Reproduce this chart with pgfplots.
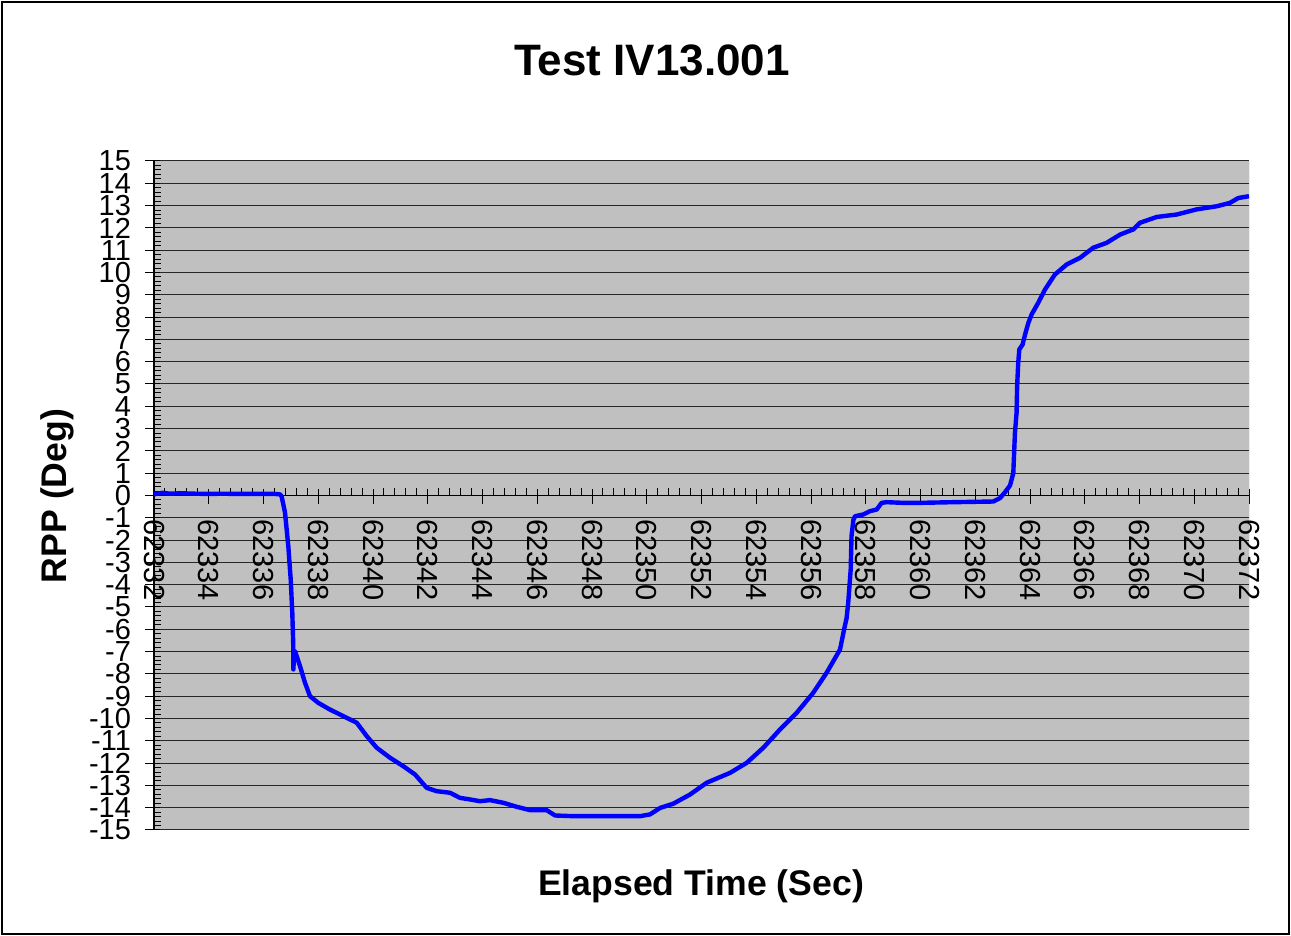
\documentclass[border=0pt]{standalone}
\usepackage{fontspec}
\setmainfont{Liberation Sans}
\usepackage{pgfplots}
\pgfplotsset{compat=1.18}
\definecolor{plotgray}{RGB}{192,192,192}
\begin{document}
\begin{tikzpicture}
\useasboundingbox (0,0) rectangle (645.5pt,468pt);
\draw[line width=0.75pt] (1pt,1pt) rectangle (644.5pt,467pt);
\begin{axis}[
  at={(77pt,53pt)}, anchor=south west, scale only axis,
  width=547.5pt, height=334.5pt,
  xmin=62332, xmax=62372, ymin=-15, ymax=15,
  axis x line=middle, axis y line=left,
  axis line style={-, black, line width=0.6pt},
  axis background/.style={fill=plotgray},
  xtick={62332,62334,62336,62338,62340,62342,62344,62346,62348,62350,62352,62354,62356,62358,62360,62362,62364,62366,62368,62370,62372},
  xticklabels={62332,62334,62336,62338,62340,62342,62344,62346,62348,62350,62352,62354,62356,62358,62360,62362,62364,62366,62368,62370,62372},
  minor x tick num=4,
  ytick={-15,-14,...,15}, minor y tick num=4,
  xtick align=inside, ytick align=outside,
  major tick length=7.5pt, minor tick length=3.5pt,
  major x tick style={yshift=-4.5pt, black, line width=0.5pt},
  minor x tick style={black, line width=0.5pt},
  major y tick style={xshift=3pt, black, line width=0.5pt},
  minor y tick style={xshift=3.5pt, black, line width=0.5pt},
  ymajorgrids, major grid style={black!85, line width=0.5pt},
  hide obscured x ticks=false, hide obscured y ticks=false,
  scaled x ticks=false, scaled y ticks=false,
  /pgf/number format/assume math mode=true,
  /pgf/number format/1000 sep={},
  xticklabel style={yshift=-8.5pt, rotate=-90, anchor=west, font=\fontsize{14.5}{17}\selectfont},
  yticklabel style={anchor=east, xshift=-0.5pt, font=\fontsize{14.5}{17}\selectfont},
]
\addplot[color={rgb,255:red,0;green,0;blue,255}, line width=2.2pt, line join=round, mark=none] coordinates {
(62332.00,0.05) (62332.3,0.12) (62332.6,0.08) (62333.0,0.10) (62333.5,0.08) (62334,0.07)
(62334.5,0.08) (62335,0.07) (62335.5,0.07) (62336,0.07) (62336.4,0.07) (62336.6,0.05)
(62336.66,-0.03) (62336.785,-0.76) (62336.906,-2.27) (62336.994,-3.77) (62337.052,-5.26)
(62337.088,-6.76) (62337.09,-7.8) (62337.12,-7.1) (62337.151,-6.98) (62337.333,-7.65)
(62337.516,-8.4) (62337.699,-9.0) (62338.002,-9.3) (62338.429,-9.6) (62339.039,-9.97)
(62339.405,-10.19) (62339.770,-10.79) (62340.135,-11.31) (62340.621,-11.76) (62341.107,-12.14)
(62341.534,-12.51) (62341.962,-13.11) (62342.327,-13.26) (62342.813,-13.33) (62343.178,-13.56)
(62343.543,-13.63) (62343.91,-13.71) (62344.27,-13.66) (62344.76,-13.78) (62345.25,-13.96)
(62345.735,-14.11) (62346.345,-14.11) (62346.65,-14.35) (62347.32,-14.38) (62348.54,-14.38)
(62349.76,-14.38) (62350.12,-14.30) (62350.49,-14.01) (62350.97,-13.82) (62351.58,-13.41)
(62352.19,-12.88) (62353.04,-12.44) (62353.65,-11.99) (62354.26,-11.31) (62354.87,-10.49)
(62355.48,-9.74) (62356.08,-8.85) (62356.57,-7.95) (62357.06,-6.91) (62357.21,-6.0)
(62357.30,-5.5) (62357.36,-4.81) (62357.45,-3.32) (62357.48,-1.82) (62357.55,-1.08)
(62357.61,-0.93) (62357.91,-0.85) (62358.16,-0.70) (62358.40,-0.63) (62358.58,-0.33)
(62358.76,-0.30) (62359.37,-0.33) (62359.98,-0.33) (62361.2,-0.30) (62362.66,-0.27)
(62362.9,-0.12) (62363.09,0.15) (62363.27,0.45) (62363.39,1.0) (62363.42,1.91)
(62363.45,2.81) (62363.51,3.71) (62363.53,4.90) (62363.57,5.95) (62363.61,6.55)
(62363.73,6.77) (62363.82,7.22) (62363.94,7.74) (62364.06,8.12) (62364.30,8.64)
(62364.55,9.24) (62364.91,9.91) (62365.34,10.36) (62365.83,10.66) (62366.31,11.11)
(62366.80,11.33) (62367.29,11.70) (62367.77,11.93) (62368.02,12.23) (62368.63,12.49)
(62369.36,12.60) (62370.09,12.83) (62370.82,12.97) (62371.30,13.12) (62371.61,13.34)
(62372.0,13.42)
};
\draw[black!55, line width=0.5pt] (rel axis cs:1,0) -- (rel axis cs:1,1);
\end{axis}
\node[font=\bfseries\fontsize{22}{26}\selectfont, anchor=base] at (326pt,430pt) {Test IV13.001};
\node[font=\bfseries\fontsize{17.8}{21}\selectfont, anchor=base] at (350.5pt,20pt) {Elapsed Time (Sec)};
\node[font=\bfseries\fontsize{17.8}{21}\selectfont, rotate=90, anchor=base] at (33pt,220pt) {RPP (Deg)};
\end{tikzpicture}
\end{document}
